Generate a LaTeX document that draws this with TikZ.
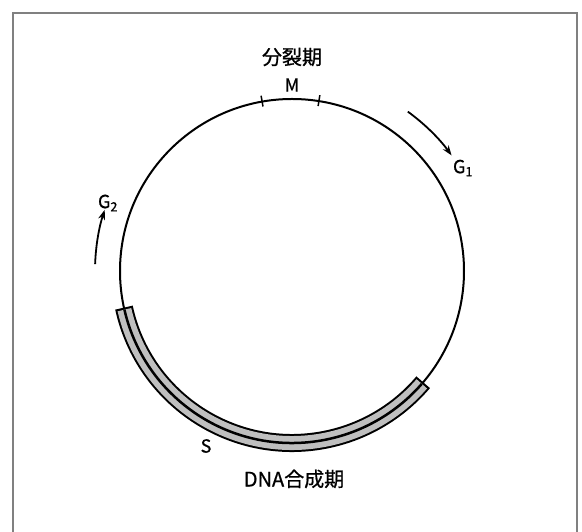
\documentclass[tikz,border=0pt]{standalone}
\usepackage{fontspec}
\setmainfont{Noto Sans CJK JP}[FakeBold=0.8]
\usetikzlibrary{arrows.meta}
\begin{document}
\begin{tikzpicture}[x=1pt,y=1pt,
  cjk/.style={inner sep=0pt, font=\fontsize{20}{24}\selectfont},
  latin/.style={inner sep=0pt, font=\fontsize{18}{22}\selectfont},
  ring/.style={line width=2pt},
  tick/.style={line width=1.5pt},
  cyc/.style={line width=1.8pt, -{Stealth[length=10pt,width=7pt]}},
  bandout/.style={line width=18pt, black},
  bandfill/.style={line width=14pt, black!25},
  frameline/.style={black!50, line width=1.5pt}]
\useasboundingbox (0,0) rectangle (582,532);
% frame
\draw[frameline] (13,-5) -- (13,519) -- (577,519) -- (577,-5);
% cycle circle
\coordinate (O) at (292,261);
\draw[ring] (O) circle[radius=172];
% S-phase band
\draw[bandout] (O) ++(192.3:172) arc[start angle=192.3, end angle=319.7, radius=172];
\draw[bandfill] (O) ++(193:172) arc[start angle=193, end angle=319, radius=172];
\draw[line width=2.5pt] (O) ++(193:172) arc[start angle=193, end angle=319, radius=172];
% M ticks
\draw[tick] (O) ++(100:167) -- ++(100:11);
\draw[tick] (O) ++(81:167) -- ++(81:11);
% direction arrows
\draw[cyc] (O) ++(54:197) arc[start angle=54, end angle=36, radius=198];
\draw[cyc] (O) ++(178:197) arc[start angle=178, end angle=162, radius=198];
% labels
\node[cjk] (mitosis) at (292,475) {分裂期};
\node[latin] (M) at (292,447) {M};
\node[latin] (G1) at (463,364) {G\textsubscript{1}};
\node[latin] (G2) at (108,329) {G\textsubscript{2}};
\node[latin] (S) at (206,86) {S};
\node[cjk] (dna) at (294,53) {DNA合成期};
\end{tikzpicture}
\end{document}
